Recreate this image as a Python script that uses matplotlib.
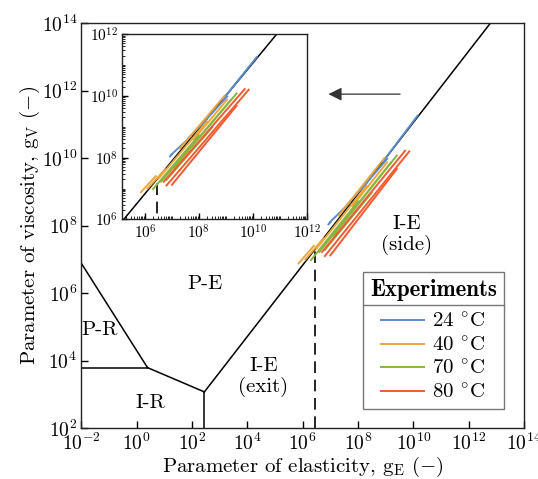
import numpy as np
import matplotlib
matplotlib.use('Agg')
import matplotlib.pyplot as plt
from matplotlib import ticker
from matplotlib.lines import Line2D

plt.rcParams['font.family'] = ['cmr10', 'DejaVu Serif']
plt.rcParams['mathtext.fontset'] = 'cm'
plt.rcParams['axes.unicode_minus'] = False
plt.rcParams['axes.formatter.use_mathtext'] = True

# regime boundaries, log10(gE) / log10(gV)
pr_pe_x, pr_pe_y = [-2.0, 0.39], [6.88, 3.79]
pr_ir_x, pr_ir_y = [-2.0, 0.39], [3.79, 3.79]
ir_pe_x, ir_pe_y = [0.39, 2.445], [3.79, 3.07]
ir_ie_x, ir_ie_y = [2.445, 2.445], [2.0, 3.07]
pe_ie_x, pe_ie_y = [2.445, 12.78], [3.07, 14.0]
exit_side_x = 6.45

# experiment segments: (log gE start, log gE end, log gV start, log gV end)
seg_24 = [(6.93, 7.00, 8.04, 8.10),
          (6.98, 7.70, 8.10, 8.68),
          (7.60, 8.30, 8.62, 9.25),
          (8.15, 9.05, 9.12, 9.98),
          (8.90, 10.15, 9.90, 11.26)]
seg_40 = [(5.85, 6.40, 6.88, 7.40),
          (6.10, 6.75, 7.00, 7.62),
          (6.50, 8.30, 7.32, 9.17),
          (7.30, 8.95, 8.30, 10.00),
          (7.80, 9.05, 8.58, 9.88)]
seg_70 = [(6.30, 8.00, 6.98, 8.72),
          (6.60, 9.20, 7.22, 9.88),
          (7.10, 9.40, 7.70, 10.08),
          (6.80, 8.50, 7.28, 8.98)]
seg_80 = [(6.70, 9.70, 7.22, 10.22),
          (6.80, 9.85, 7.10, 10.20),
          (7.00, 9.40, 7.12, 9.68)]

temps = ['24 $^{\\circ}$C', '40 $^{\\circ}$C', '70 $^{\\circ}$C', '80 $^{\\circ}$C']
colors = ['#5b8bc9', '#eda53c', '#88b53e', '#f25a32']
all_segs = [seg_24, seg_40, seg_70, seg_80]

regions = [('P-E', 2.47, 6.28), ('P-R', -1.33, 4.89), ('I-R', 0.48, 2.73),
           ('I-E\n(exit)', 4.58, 3.51), ('I-E\n(side)', 9.77, 7.72)]

fig = plt.figure(figsize=(5.38, 4.79), dpi=100)
ax = fig.add_axes([0.1513, 0.1065, 0.8227, 0.8448])
axi = fig.add_axes([0.2268, 0.542, 0.3433, 0.3868])

def draw(a, dashed_bottom):
    for xs, ys in [(pr_pe_x, pr_pe_y), (pr_ir_x, pr_ir_y), (ir_pe_x, ir_pe_y),
                   (ir_ie_x, ir_ie_y), (pe_ie_x, pe_ie_y)]:
        a.plot(10**np.array(xs), 10**np.array(ys), color='k', lw=1.1)
    ytop = np.interp(exit_side_x, pe_ie_x, pe_ie_y)
    a.plot([10**exit_side_x]*2, [10**dashed_bottom, 10**ytop], color='k',
           lw=1.2, dashes=(7, 4))
    for segs, c, lab in zip(all_segs, colors, temps):
        for i, (x0, x1, y0, y1) in enumerate(segs):
            a.plot([10**x0, 10**x1], [10**y0, 10**y1], color=c, lw=1.4,
                   label=lab if i == 0 else None)
    a.set_xscale('log')
    a.set_yscale('log')
    for s in a.spines.values():
        s.set_color('#222')
        s.set_linewidth(1.0)

draw(ax, 2)
ax.set_xlim(1e-2, 1e14)
ax.set_ylim(1e2, 1e14)
ax.set_xticks([10.0**k for k in range(-2, 15, 2)])
ax.set_yticks([10.0**k for k in range(2, 15, 2)])
ax.xaxis.set_minor_locator(ticker.NullLocator())
ax.yaxis.set_minor_locator(ticker.NullLocator())
ax.tick_params(direction='in', length=5, width=1, labelsize=14, pad=3,
               top=False, right=False)
ax.set_xlabel(r'Parameter of elasticity, $\mathrm{g}_\mathrm{E}$ $(-)$',
              fontsize=15, labelpad=1)
ax.set_ylabel(r'Parameter of viscosity, $\mathrm{g}_\mathrm{V}$ $(-)$',
              fontsize=15, labelpad=0)

for t, lx, ly in regions:
    ax.text(10**lx, 10**ly, t, ha='center', va='center', fontsize=15,
            linespacing=1.1)

ax.annotate('', xy=(10**6.93, 10**11.9), xytext=(10**9.52, 10**11.9),
            arrowprops=dict(arrowstyle='-|>', color='#333', lw=0.9,
                            mutation_scale=20, shrinkA=0, shrinkB=0))

leg = ax.legend(title='Experiments', loc='lower right',
                bbox_to_anchor=(0.955, 0.046), borderaxespad=0,
                fontsize=15, title_fontproperties={'family': 'cmb10', 'size': 16.5},
                fancybox=False, edgecolor='#777', framealpha=1,
                handlelength=2.05, handletextpad=0.4, labelspacing=0.2,
                borderpad=0.35)
leg.get_frame().set_linewidth(1.0)
leg.get_title().set_fontweight('bold')
leg._legend_box.sep = 8

draw(axi, 5)
axi.set_xlim(10**5.15, 1e12)
axi.set_ylim(1e6, 1e12)
axi.set_xticks([10.0**k for k in range(6, 13, 2)])
axi.set_yticks([10.0**k for k in range(6, 13, 2)])
axi.xaxis.set_minor_locator(ticker.LogLocator(base=10.0, subs=np.arange(1, 10), numticks=100))
axi.yaxis.set_minor_locator(ticker.LogLocator(base=10.0, subs=np.arange(1, 10), numticks=100))
axi.xaxis.set_minor_formatter(ticker.NullFormatter())
axi.yaxis.set_minor_formatter(ticker.NullFormatter())
axi.tick_params(which='major', direction='in', length=4, width=1,
                labelsize=11, pad=3, top=False, right=False)
axi.tick_params(which='minor', direction='in', length=2, width=0.6,
                top=False, right=False)

# line under the legend title
fig.canvas.draw()
r = fig.canvas.get_renderer()
fb = leg.get_frame().get_window_extent(r)
tb = leg.get_title().get_window_extent(r)
ysep = tb.y0 - 4
fig.add_artist(Line2D([fb.x0 / fig.bbox.width, fb.x1 / fig.bbox.width],
                      [ysep / fig.bbox.height] * 2, transform=fig.transFigure,
                      color='#777', lw=1.0))

fig.savefig('out.png', dpi=100)
